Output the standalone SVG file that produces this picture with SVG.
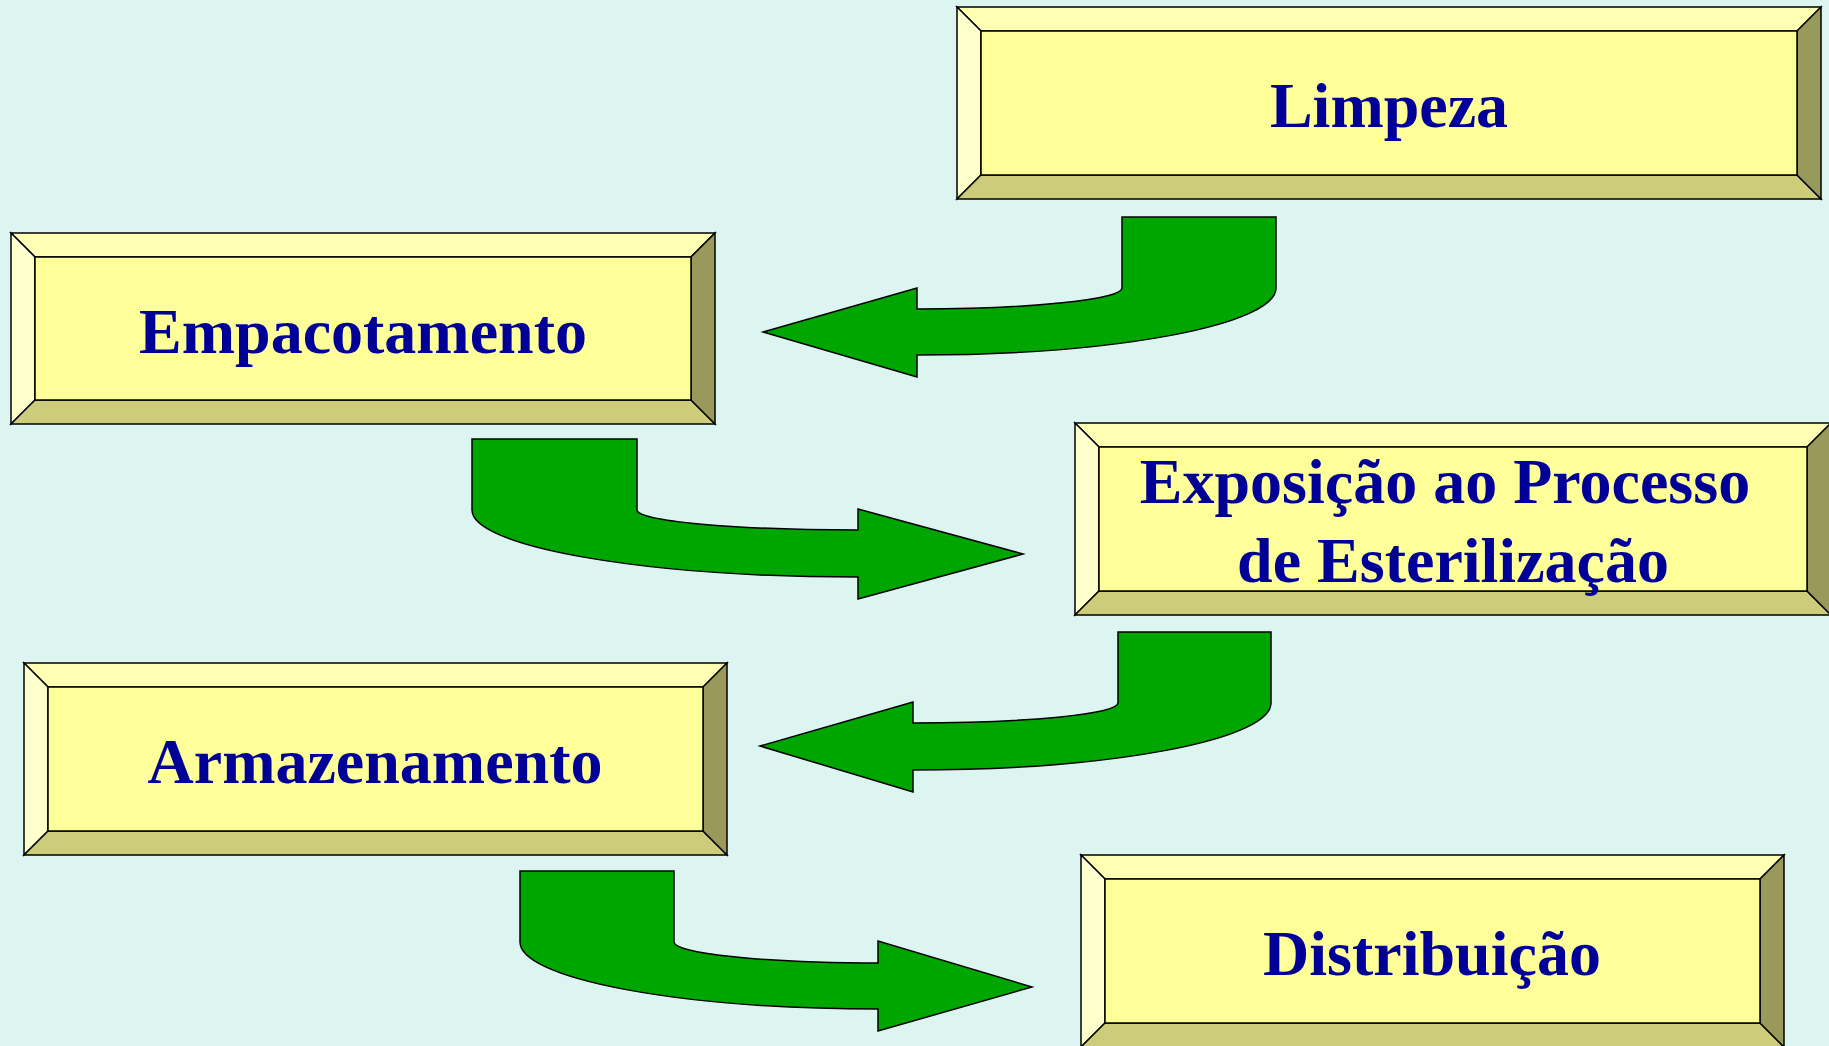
<svg xmlns="http://www.w3.org/2000/svg" width="1829" height="1046" viewBox="0 0 1829 1046">
<style>
.bg{fill:#DDF5F1}
.bv{stroke:#000;stroke-width:1.5;stroke-linejoin:miter}
.t{fill:#FFFFB3}.l{fill:#FFFFCC}.b{fill:#CCCC7A}.r{fill:#99995C}.i{fill:#FFFF99}
.lbl{font-family:"Liberation Serif","Times New Roman",serif;font-weight:bold;font-size:64px;fill:#000099;text-anchor:middle}
.arr{fill:#00A600;stroke:#000;stroke-width:1.5;stroke-linejoin:miter}
</style>
<rect class="bg" x="0" y="0" width="1829" height="1046"/>

<g id="limpeza">
<polygon class="bv t" points="957,7 1821,7 1797,31 981,31"/>
<polygon class="bv l" points="957,7 981,31 981,175 957,199"/>
<polygon class="bv b" points="957,199 981,175 1797,175 1821,199"/>
<polygon class="bv r" points="1821,7 1821,199 1797,175 1797,31"/>
<rect class="bv i" x="981" y="31" width="816" height="144"/>
<text class="lbl" x="1389" y="127">Limpeza</text>
</g>

<g id="empacotamento">
<polygon class="bv t" points="11,233 715,233 691,257 35,257"/>
<polygon class="bv l" points="11,233 35,257 35,400 11,424"/>
<polygon class="bv b" points="11,424 35,400 691,400 715,424"/>
<polygon class="bv r" points="715,233 715,424 691,400 691,257"/>
<rect class="bv i" x="35" y="257" width="656" height="143"/>
<text class="lbl" x="363" y="353">Empacotamento</text>
</g>

<g id="exposicao">
<polygon class="bv t" points="1075,423 1831,423 1807,447 1099,447"/>
<polygon class="bv l" points="1075,423 1099,447 1099,591 1075,615"/>
<polygon class="bv b" points="1075,615 1099,591 1807,591 1831,615"/>
<polygon class="bv r" points="1831,423 1831,615 1807,591 1807,447"/>
<rect class="bv i" x="1099" y="447" width="708" height="144"/>
<text class="lbl" x="1445" y="503">Exposição ao Processo</text>
<text class="lbl" x="1453" y="582">de Esterilização</text>
</g>

<g id="armazenamento">
<polygon class="bv t" points="24,663 727,663 703,687 48,687"/>
<polygon class="bv l" points="24,663 48,687 48,831 24,855"/>
<polygon class="bv b" points="24,855 48,831 703,831 727,855"/>
<polygon class="bv r" points="727,663 727,855 703,831 703,687"/>
<rect class="bv i" x="48" y="687" width="655" height="144"/>
<text class="lbl" x="375" y="783">Armazenamento</text>
</g>

<g id="distribuicao">
<polygon class="bv t" points="1081,855 1784,855 1760,879 1105,879"/>
<polygon class="bv l" points="1081,855 1105,879 1105,1023 1081,1047"/>
<polygon class="bv b" points="1081,1047 1105,1023 1760,1023 1784,1047"/>
<polygon class="bv r" points="1784,855 1784,1047 1760,1023 1760,879"/>
<rect class="bv i" x="1105" y="879" width="655" height="144"/>
<text class="lbl" x="1432" y="975">Distribuição</text>
</g>

<g id="connectors">
<path class="arr" d="M1122,217 H1276 V288 A359,67 0 0 1 917,355 V377 L763,332 L917,288 V309 A205,21 0 0 0 1122,288 Z"/>
<path class="arr" d="M472,439 H637 V510 A221,20 0 0 0 858,530 V509 L1023,554 L858,599 V577 A386,67 0 0 1 472,510 Z"/>
<path class="arr" d="M1118,632 H1271 V703 A358,67 0 0 1 913,770 V792 L760,746 L913,702 V723 A205,20 0 0 0 1118,703 Z"/>
<path class="arr" d="M520,871 H674 V942 A204,21 0 0 0 878,963 V941 L1032,987 L878,1031 V1009 A358,67 0 0 1 520,942 Z"/>
</g>
</svg>
